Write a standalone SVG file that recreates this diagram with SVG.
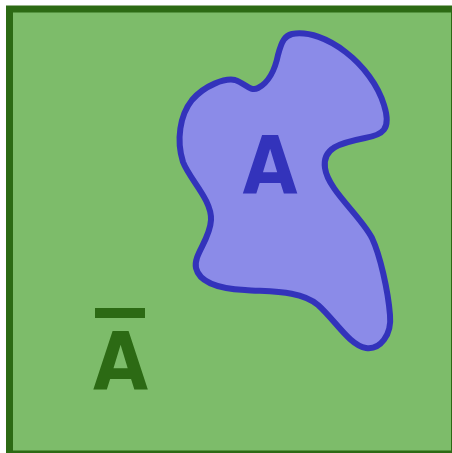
<svg xmlns="http://www.w3.org/2000/svg" width="452" height="453" viewBox="0 0 452 453">
<style>
.lbl{font-family:"DejaVu Sans",sans-serif;font-weight:bold;text-anchor:middle;font-size:81px}
</style>
<defs>
<clipPath id="cutMacron">
<rect x="60" y="280" width="120" height="38"/>
<rect x="60" y="326" width="120" height="80"/>
</clipPath>
</defs>
<rect width="452" height="453" fill="#ffffff"/>
<g id="universe">
<rect x="9.5" y="9" width="445" height="445" fill="#7dbc6a" stroke="#2c6a14" stroke-width="7"/>
<g clip-path="url(#cutMacron)">
<text class="lbl" transform="translate(120.5,390) scale(0.88,1)" x="0" y="0" fill="#2c6a14">Ā</text>
</g>
<rect x="95" y="308" width="50" height="10" fill="#2c6a14"/>
</g>
<g id="setA">
<path d="M 292,34 C 325,28 372,65 384,105 C 392,130 382,135 365,138 C 340,143 322,148 325,168 C 328,190 360,215 372,238 C 380,255 388,290 390,315 C 392,335 380,350 366,348 C 350,346 335,320 318,305 C 300,290 270,292 245,290 C 225,289 200,285 196,268 C 193,255 210,240 211,220 C 212,200 190,180 183,162 C 176,140 180,115 192,100 C 205,85 225,78 235,80 C 245,83 250,92 258,88 C 268,83 275,70 278,55 C 282,40 285,36 292,34 Z" fill="#8b8be8" stroke="#3333bb" stroke-width="6"/>
<text class="lbl" transform="translate(270,194) scale(0.88,1)" x="0" y="0" fill="#3333bb">A</text>
</g>
<g id="connectors"/>
</svg>
